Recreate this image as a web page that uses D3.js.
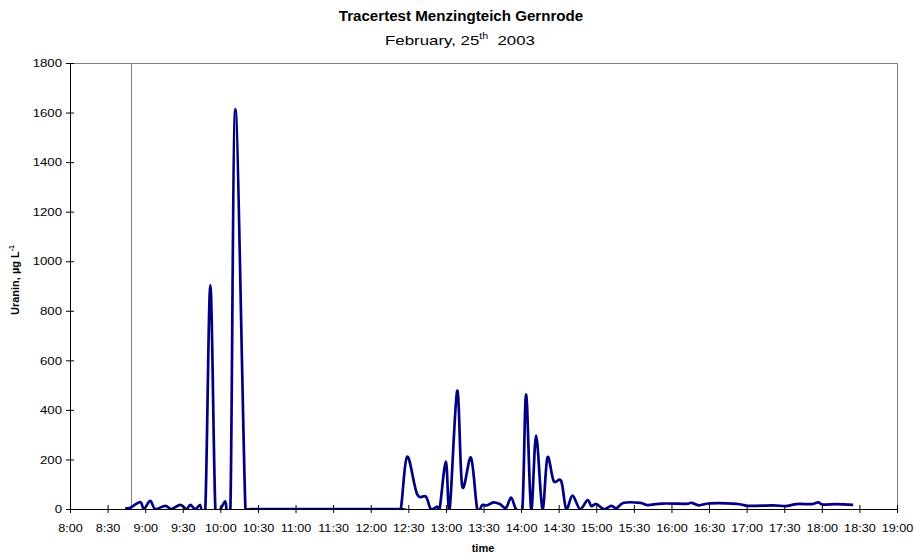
<!DOCTYPE html>
<html><head><meta charset="utf-8">
<script src="https://cdn.jsdelivr.net/npm/d3@7"></script>
<style>body{margin:0;background:#fff}svg{display:block;font-family:Arial,"Liberation Sans",sans-serif}</style>
</head><body><svg id="c" width="914" height="555"></svg>
<script>
const times = ["8:44","8:48","8:56","8:59","9:04","9:08","9:16","9:21","9:28","9:33","9:36","9:40","9:44","9:48","9:52","9:56","10:00","10:04","10:08","10:12","10:20","10:24","12:20","12:24","12:29","12:37","12:44","12:48","12:53","12:55","13:00","13:03","13:09","13:13","13:20","13:25","13:29","13:33","13:38","13:43","13:48","13:52","13:56","14:01","14:04","14:08","14:12","14:17","14:21","14:26","14:32","14:36","14:41","14:47","14:53","14:56","15:00","15:06","15:12","15:16","15:22","15:35","15:41","15:53","16:12","16:16","16:22","16:31","16:52","17:01","17:21","17:31","17:40","17:52","17:57","18:01","18:12","18:25"];
const uranin = [3,5,28,0,33,0,13,0,17,0,17,0,17,0,904,0,0,31,0,1614,0,0,0,0,211,60,50,0,10,0,191,0,477,93,207,0,16,15,27,20,5,46,0,0,463,0,296,0,208,113,113,0,54,0,36,12,20,0,13,3,25,25,16,22,21,25,15,23,21,13,15,12,20,20,27,18,20,17];
const xTickLabels = ["8:00","8:30","9:00","9:30","10:00","10:30","11:00","11:30","12:00","12:30","13:00","13:30","14:00","14:30","15:00","15:30","16:00","16:30","17:00","17:30","18:00","18:30","19:00"];
const yTicks = [0,200,400,600,800,1000,1200,1400,1600,1800];
const markerTime = "8:49";

const toMin = s => { const [h,m] = s.split(":").map(Number); return h*60+m; };
const data = times.map((t,i)=>({t:toMin(t), v:uranin[i]}));

const svg = d3.select("#c");
const L=70, R=897, T=63, B=509;
const x = d3.scaleLinear().domain([toMin("8:00"), toMin("19:00")]).range([L,R]);
const y = d3.scaleLinear().domain([0,1800]).range([B,T]);

// plot-area border (grey)
svg.append("path").attr("d",`M${L},${T+0.5}H${R+0.5}V${B}`).attr("fill","none").attr("stroke","#808080").attr("stroke-width",1);
const mx = Math.round(x(toMin(markerTime)))+0.5;
svg.append("line").attr("x1",mx).attr("x2",mx).attr("y1",T).attr("y2",B).attr("stroke","#808080").attr("stroke-width",1);

svg.append("clipPath").attr("id","cp").append("rect").attr("x",L).attr("y",T-5).attr("width",R-L).attr("height",B-T+6);

const line = d3.line().x(d=>x(d.t)).y(d=>y(d.v)).curve(d3.curveCardinal.tension(0));
svg.append("path").datum(data).attr("clip-path","url(#cp)").attr("d",line)
  .attr("fill","none").attr("stroke","#000080").attr("stroke-width",2.7).attr("stroke-linejoin","round");

// axes
const FS = 11.5;
const xAxis = d3.axisBottom(x).tickValues(xTickLabels.map(toMin)).tickFormat((d,i)=>xTickLabels[i]).tickSizeInner(4).tickSizeOuter(0).tickPadding(11);
const gx = svg.append("g").attr("transform",`translate(0,${B})`).call(xAxis);
gx.selectAll(".tick line").attr("y1",-4);
const yAxis = d3.axisLeft(y).tickValues(yTicks).tickFormat(d3.format("d")).tickSizeInner(4).tickSizeOuter(0).tickPadding(4);
const gy = svg.append("g").attr("transform",`translate(${L},0)`).call(yAxis);
gy.selectAll(".tick line").attr("x1",4).attr("x2",-4);
[gx,gy].forEach(g=>{
  g.select(".domain").attr("stroke","#000");
  g.selectAll("text").attr("font-size",FS).attr("font-family","Arial, 'Liberation Sans', sans-serif").attr("fill","#000");
  g.selectAll(".tick line").attr("stroke","#000");
});
gx.selectAll(".tick text").attr("transform","scale(1.1,1)");
gy.selectAll(".tick text").attr("transform","translate(-8,0) scale(1.15,1) translate(8,0)");

// titles
function fit(sel, cx, w){
  const bw = sel.node().getBBox().width;
  const s = w/bw;
  sel.attr("x",0).attr("transform",`translate(${cx},0) scale(${s},1)`);
}
const tt = svg.append("text").attr("y",21).attr("text-anchor","middle").attr("font-size",14).attr("font-weight","bold").text("Tracertest Menzingteich Gernrode");
fit(tt, 461, 245);
const st = svg.append("text").attr("y",45).attr("text-anchor","middle").attr("font-size",13.5);
st.append("tspan").text("February, 25");
st.append("tspan").attr("font-size",8.5).attr("dy",-6).text("th");
st.append("tspan").attr("dy",6).text("\u00a0\u00a02003");
fit(st, 460, 150);

svg.append("text").attr("x",483).attr("y",552).attr("text-anchor","middle").attr("font-size",11).attr("font-weight","bold").text("time");
const yl = svg.append("text").attr("transform","translate(19,280) rotate(-90)").attr("text-anchor","middle").attr("font-size",11).attr("font-weight","bold");
yl.append("tspan").text("Uranin, \u00b5g L");
yl.append("tspan").attr("font-size",7).attr("dy",-5).text("-1");
</script></body></html>
